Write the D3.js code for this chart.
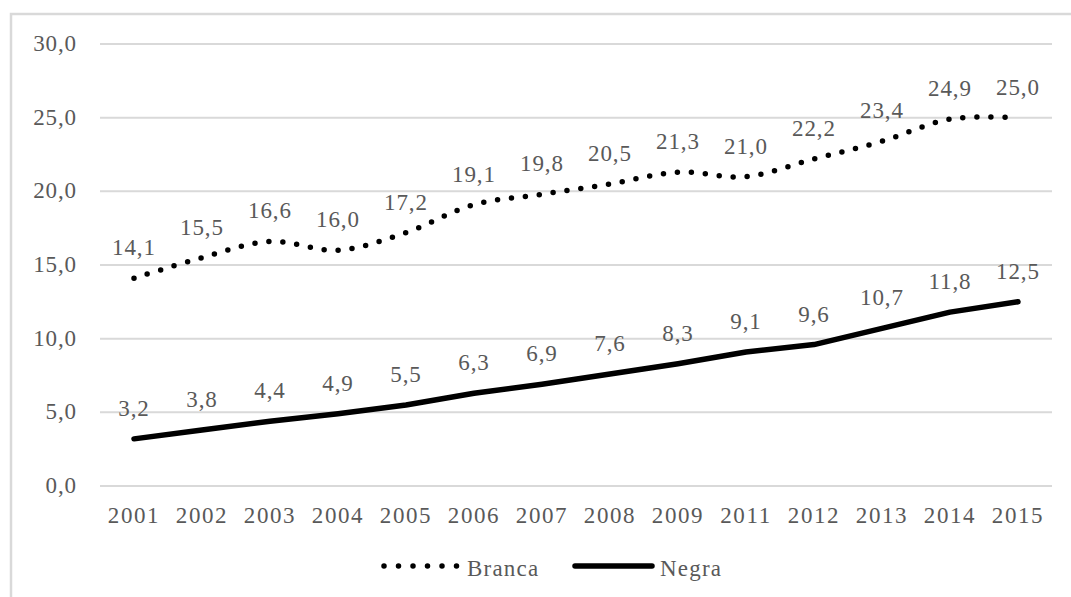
<!DOCTYPE html>
<html><head><meta charset="utf-8">
<script src="https://cdn.jsdelivr.net/npm/d3@7"></script>
<style>body{margin:0;background:#fff}svg{display:block}</style>
</head><body>
<script>
const years = ["2001","2002","2003","2004","2005","2006","2007","2008","2009","2011","2012","2013","2014","2015"];
const branca = [14.1,15.5,16.6,16.0,17.2,19.1,19.8,20.5,21.3,21.0,22.2,23.4,24.9,25.0];
const negra = [3.2,3.8,4.4,4.9,5.5,6.3,6.9,7.6,8.3,9.1,9.6,10.7,11.8,12.5];
const yTicks = [0,5,10,15,20,25,30];
const seriesNames = ["Branca","Negra"];

const W = 1071, H = 597;
const svg = d3.select("body").append("svg").attr("width", W).attr("height", H);
const font = "'Liberation Serif','Times New Roman',serif";
const txt = "#595959";
const fs = 23, ls = 0.9;

svg.append("rect").attr("x", 11).attr("y", 14).attr("width", W + 10).attr("height", H + 10)
  .attr("fill", "none").attr("stroke", "#d9d9d9").attr("stroke-width", 2.5);

const x = d3.scaleBand().domain(years).range([100, 1052]);
const y = d3.scaleLinear().domain([0, 30]).range([486, 44]);
const fmt = v => d3.format(".1f")(v).replace(".", ",");

svg.append("g").selectAll("line").data(yTicks).join("line")
  .attr("x1", 100).attr("x2", 1052).attr("y1", d => y(d)).attr("y2", d => y(d))
  .attr("stroke", "#d9d9d9").attr("stroke-width", 2);

svg.append("g").selectAll("text").data(yTicks).join("text")
  .attr("x", 77).attr("y", d => y(d) + 7).attr("text-anchor", "end")
  .attr("font-family", font).attr("font-size", fs).attr("letter-spacing", ls).attr("fill", txt)
  .text(fmt);

svg.append("g").selectAll("text").data(years).join("text")
  .attr("x", d => x(d) + x.bandwidth() / 2).attr("y", 523).attr("text-anchor", "middle")
  .attr("font-family", font).attr("font-size", fs).attr("letter-spacing", 1.6).attr("fill", txt)
  .text(d => d);

const cx = (d, i) => x(years[i]) + x.bandwidth() / 2;
const lineSmooth = d3.line().x(cx).y(d => y(d)).curve(d3.curveCatmullRom.alpha(0.5));
const lineStraight = d3.line().x(cx).y(d => y(d));

svg.append("path").datum(branca).attr("d", lineSmooth).attr("fill", "none")
  .attr("stroke", "#000").attr("stroke-width", 5.5).attr("stroke-linecap", "round").attr("stroke-dasharray", "0 14");
svg.append("path").datum(negra).attr("d", lineStraight).attr("fill", "none")
  .attr("stroke", "#000").attr("stroke-width", 5.5).attr("stroke-linecap", "round").attr("stroke-linejoin", "round");

[branca, negra].forEach(s => {
  svg.append("g").selectAll("text").data(s).join("text")
    .attr("x", cx).attr("y", d => y(d) - 23)
    .attr("text-anchor", "middle")
    .attr("font-family", font).attr("font-size", fs).attr("letter-spacing", ls).attr("fill", txt)
    .text(fmt);
});

// legend
const lg = svg.append("g");
lg.append("line").attr("x1", 384).attr("x2", 457).attr("y1", 566).attr("y2", 566)
  .attr("stroke", "#000").attr("stroke-width", 5.5).attr("stroke-linecap", "round").attr("stroke-dasharray", "0 14.5");
lg.append("text").attr("x", 467).attr("y", 576).attr("font-family", font).attr("font-size", fs)
  .attr("letter-spacing", 1.2).attr("fill", txt).text(seriesNames[0]);
lg.append("line").attr("x1", 575).attr("x2", 652).attr("y1", 566).attr("y2", 566)
  .attr("stroke", "#000").attr("stroke-width", 5.5).attr("stroke-linecap", "round");
lg.append("text").attr("x", 660).attr("y", 576).attr("font-family", font).attr("font-size", fs)
  .attr("letter-spacing", 1.2).attr("fill", txt).text(seriesNames[1]);
</script>
</body></html>
